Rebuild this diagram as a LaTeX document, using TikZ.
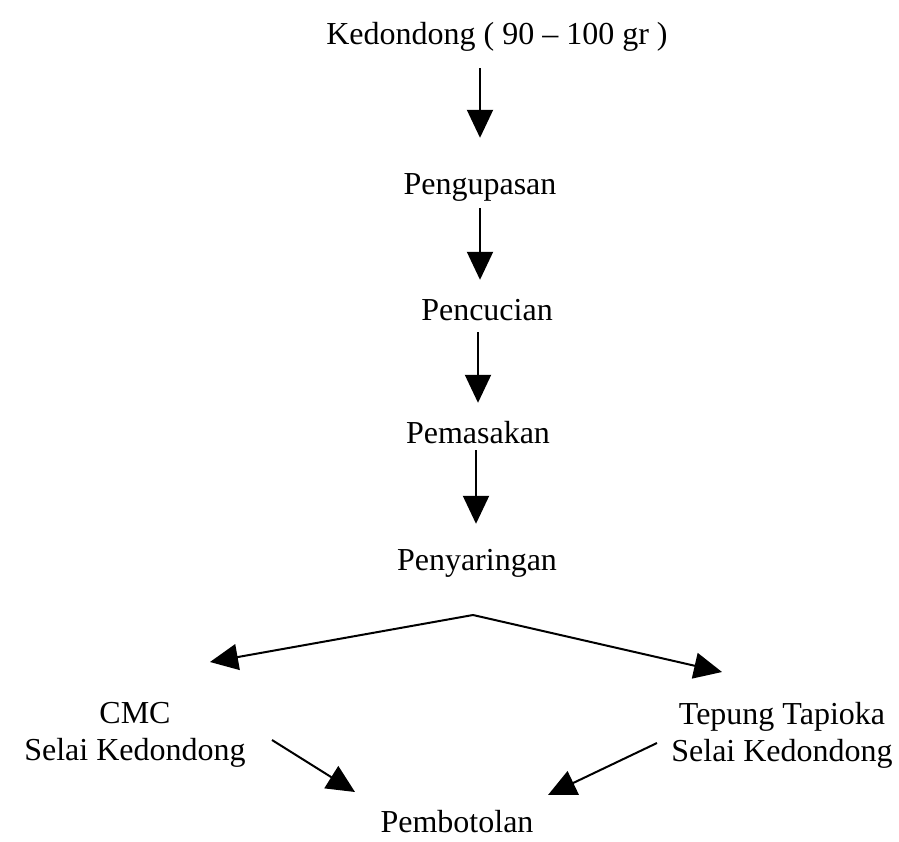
\documentclass[tikz,border=0pt]{standalone}
\usepackage{fontspec}
\setmainfont{Liberation Serif}
\usetikzlibrary{arrows.meta}
\begin{document}
\begin{tikzpicture}[x=1pt,y=-1pt,
  lbl/.style={font=\fontsize{32}{37}\selectfont, inner sep=0pt, text height=22pt, text depth=7pt, anchor=base, align=center},
  arr/.style={line width=2pt, -{Triangle[width=26pt,length=28pt]}}]
\useasboundingbox (0,0) rectangle (899,842);
\node[lbl] (title) at (497,45) {Kedondong ( 90 -- 100 gr )};
\node[lbl] (kupas) at (480,195) {Pengupasan};
\node[lbl] (cuci) at (487,320) {Pencucian};
\node[lbl] (masak) at (478,443) {Pemasakan};
\node[lbl] (saring) at (477,570) {Penyaringan};
\node[lbl, text depth=0pt] (cmc) at (135,760) {CMC\\Selai Kedondong};
\node[lbl, text depth=0pt] (tapioka) at (782,761) {Tepung Tapioka\\Selai Kedondong};
\node[lbl] (botol) at (457,832) {Pembotolan};
\coordinate (apex) at (473,615);
\draw[arr, shorten <=16pt, shorten >=35pt] (title.south -| kupas.center) -- (kupas.north);
\draw[arr, shorten <=6pt, shorten >=18pt] (kupas.south) -- (kupas.south |- cuci.north);
\draw[arr, shorten <=5pt, shorten >=18pt] (cuci.south -| 478,0) -- (masak.north -| 478,0);
\draw[arr, shorten <=0pt, shorten >=24pt] (masak.south -| 476,0) -- (saring.north -| 476,0);
\draw[arr] (apex) -- (210,662);
\draw[arr] (apex) -- (722,672);
\draw[arr] (272,740) -- (355,792);
\draw[arr] (657,743) -- (548,795);
\end{tikzpicture}
\end{document}
